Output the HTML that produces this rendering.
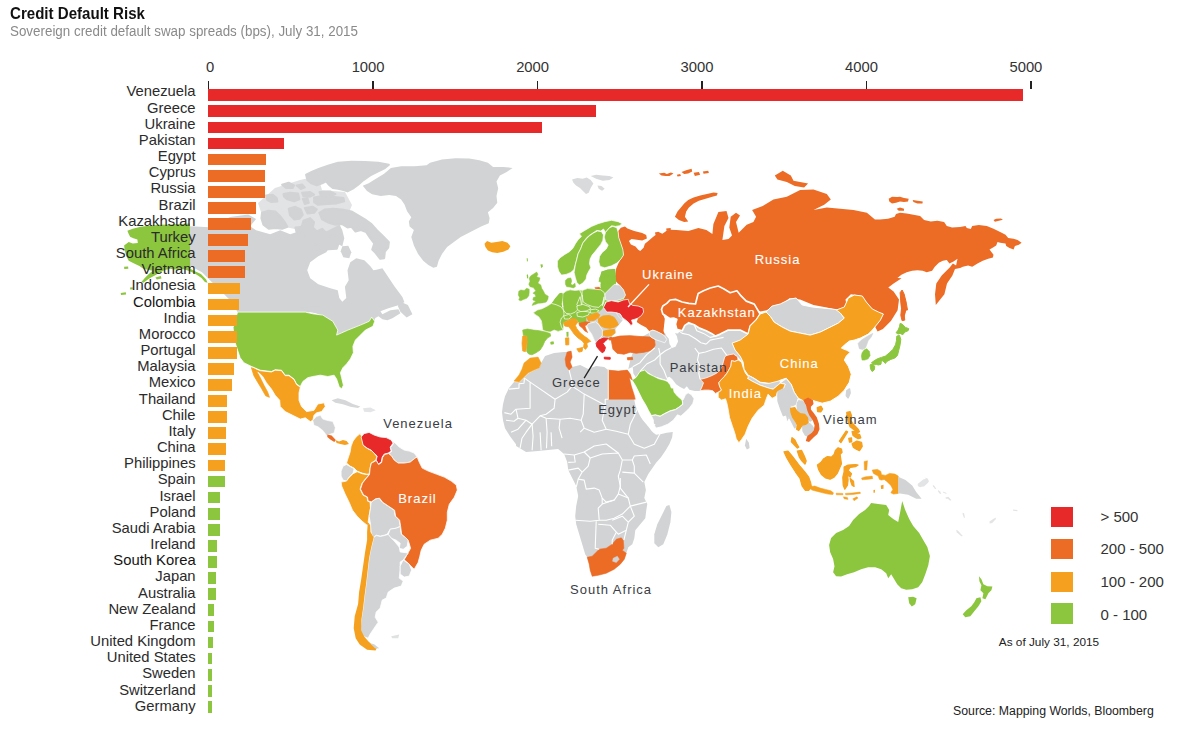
<!DOCTYPE html>
<html><head><meta charset="utf-8"><title>Credit Default Risk</title>
<style>
html,body{margin:0;padding:0;background:#fff;}
body{width:1200px;height:734px;position:relative;overflow:hidden;font-family:"Liberation Sans",sans-serif;}
#title{position:absolute;left:10px;top:4px;font-size:16.5px;font-weight:bold;color:#111;white-space:nowrap;transform-origin:0 0;transform:scaleX(0.914);letter-spacing:0px;}
#sub{position:absolute;left:10px;top:23px;font-size:14px;color:#8a8a8a;white-space:nowrap;transform-origin:0 0;transform:scaleX(0.9555);}
.lb{position:absolute;right:1004.4px;font-size:14.8px;color:#2b2b2b;white-space:nowrap;line-height:16px;height:16px;text-align:right;}
.bar{position:absolute;height:11.8px;}
.ax{position:absolute;top:58.6px;font-size:14.8px;color:#333;width:60px;text-align:center;line-height:16px;}
.tk{position:absolute;top:81px;width:1.6px;height:7.7px;background:#222;}
svg{position:absolute;left:0;top:0;filter:blur(0.35px);}
.ml{position:absolute;font-size:13px;color:#3a3d44;white-space:nowrap;line-height:14px;letter-spacing:1px;}
.mw{color:#fff;-webkit-text-stroke:0.12px #fff;}
.lg{position:absolute;left:1051.4px;width:21.9px;height:20px;}
.lt{position:absolute;left:1100.5px;font-size:15px;color:#333;white-space:nowrap;line-height:16px;}
.src{position:absolute;font-size:11.5px;color:#222;white-space:nowrap;line-height:14px;}
</style></head><body>
<svg width="1200" height="734" viewBox="0 0 1200 734">
<path d="M362.8,185.8 L368.7,183.2 L375.5,179.0 L384.1,173.8 L390.9,167.9 L401.1,166.2 L414.7,166.2 L426.6,165.3 L430.0,162.8 L442.0,159.4 L455.6,158.2 L469.2,158.5 L479.4,160.2 L487.9,162.8 L493.1,167.0 L503.3,167.0 L512.6,167.9 L506.7,172.1 L499.9,175.5 L496.5,181.5 L498.2,188.3 L496.5,196.0 L497.3,202.8 L493.1,207.9 L487.9,212.2 L489.6,218.1 L488.8,223.2 L481.1,226.6 L474.3,230.0 L467.5,233.4 L460.7,236.9 L453.9,242.0 L447.1,247.1 L442.0,253.9 L438.6,260.7 L436.9,266.7 L433.4,267.8 L428.3,265.0 L423.2,260.7 L418.1,253.9 L413.9,245.4 L411.3,236.9 L413.9,230.0 L409.6,226.6 L408.8,221.5 L411.3,217.3 L407.1,211.3 L404.5,204.5 L401.1,199.4 L396.0,196.0 L389.2,195.1 L380.7,196.0 L372.1,194.3 L367.0,190.9Z" fill="#d1d3d4"/>
<path d="M484.5,243.7 L487.1,241.1 L491.3,242.8 L496.5,242.0 L502.4,241.1 L507.5,242.8 L510.4,246.2 L508.4,249.6 L503.3,251.8 L497.3,253.0 L492.2,252.2 L487.9,250.5 L485.4,247.1Z" fill="#f5a01f"/>
<path d="M190.0,226.2 L210.0,227.2 L230.1,217.1 L248.1,214.5 L256.1,219.1 L250.1,226.2 L256.1,230.2 L270.2,234.2 L280.2,230.2 L290.2,234.2 L302.2,230.2 L310.2,228.2 L318.3,230.2 L326.3,226.2 L330.3,220.1 L338.3,222.1 L342.3,230.2 L344.3,238.2 L342.3,246.2 L338.3,244.2 L330.3,246.2 L326.3,252.2 L318.3,256.2 L310.2,262.2 L307.2,270.2 L310.2,278.3 L318.3,284.3 L330.3,288.3 L337.7,290.3 L339.3,297.9 L342.3,301.7 L346.3,297.9 L344.9,286.7 L348.7,280.3 L347.5,270.2 L350.3,262.2 L356.3,258.2 L364.3,260.2 L370.4,266.2 L373.4,270.2 L376.4,269.8 L382.4,268.2 L386.4,274.2 L394.4,286.3 L402.4,297.1 L404.4,302.3 L398.4,305.3 L388.4,308.3 L380.4,311.3 L382.4,314.3 L390.4,310.3 L398.4,309.3 L400.4,313.3 L392.4,318.3 L387.4,320.3 L382.4,319.3 L378.4,316.3 L375.4,317.9 L373.4,322.3 L364.3,326.4 L354.3,330.4 L342.3,335.4 L344.3,330.4 L339.3,321.3 L328.3,315.3 L318.3,313.3 L310.2,312.3 L237.7,312.3 L230.1,300.3 L220.1,290.3 L210.0,280.3 L202.0,272.2 L190.0,265.8Z" fill="#d1d3d4"/>
<path d="M399.9,301.6 L407.9,304.9 L412.4,314.2 L406.6,317.4 L400.4,311.7 L397.9,305.9Z" fill="#d1d3d4"/>
<path d="M258.0,203.0 L275.0,188.0 L300.0,180.0 L318.0,176.0 L322.0,190.0 L345.0,192.0 L352.0,205.0 L345.0,222.0 L325.0,232.0 L300.0,230.0 L280.0,226.0 L262.0,215.0Z" fill="#e2e3e4"/>
<path d="M306.1,174.7 L312.8,171.4 L319.4,168.7 L328.8,165.4 L338.1,162.7 L351.5,161.8 L364.9,162.0 L378.2,162.7 L388.9,164.7 L384.9,168.0 L378.2,171.4 L370.2,175.4 L363.5,180.1 L358.2,184.7 L352.8,188.7 L347.5,191.4 L343.5,190.1 L338.1,188.7 L332.8,188.1 L328.8,184.7 L326.1,181.4 L322.1,183.4 L316.8,185.4 L311.4,183.4 L307.4,180.1Z" fill="#d1d3d4" stroke="#d1d3d4" stroke-width="2.0" stroke-linejoin="round"/>
<path d="M314.1,197.4 L322.1,196.1 L332.8,196.7 L343.5,198.1 L344.2,201.4 L336.8,203.4 L327.5,204.1 L318.1,204.8 L314.1,202.1Z" fill="#d1d3d4" stroke="#d1d3d4" stroke-width="2.0" stroke-linejoin="round"/>
<path d="M282.1,184.7 L288.7,182.7 L294.1,185.4 L292.7,188.1 L286.1,188.1Z" fill="#d1d3d4" stroke="#d1d3d4" stroke-width="2.0" stroke-linejoin="round"/>
<path d="M296.7,185.4 L302.1,184.5 L304.8,187.4 L300.8,189.0Z" fill="#d1d3d4" stroke="#d1d3d4" stroke-width="2.0" stroke-linejoin="round"/>
<path d="M283.4,194.1 L290.1,192.7 L298.1,193.4 L299.4,199.4 L294.1,201.4 L287.4,199.4 L284.1,196.7Z" fill="#d1d3d4" stroke="#d1d3d4" stroke-width="2.0" stroke-linejoin="round"/>
<path d="M302.1,192.7 L310.1,192.1 L314.1,194.7 L310.1,196.7 L303.4,196.1Z" fill="#d1d3d4" stroke="#d1d3d4" stroke-width="2.0" stroke-linejoin="round"/>
<path d="M319.4,192.1 L330.1,191.4 L335.5,194.1 L330.1,196.1 L320.8,195.4Z" fill="#d1d3d4" stroke="#d1d3d4" stroke-width="2.0" stroke-linejoin="round"/>
<path d="M302.8,198.7 L307.4,198.1 L308.8,202.8 L304.8,204.1Z" fill="#d1d3d4" stroke="#d1d3d4" stroke-width="2.0" stroke-linejoin="round"/>
<path d="M266.0,195.4 L272.7,194.7 L276.7,198.1 L277.4,201.4 L271.4,202.1 L267.4,200.1Z" fill="#d1d3d4" stroke="#d1d3d4" stroke-width="2.0" stroke-linejoin="round"/>
<path d="M262.0,212.8 L268.7,210.8 L275.4,211.4 L280.7,216.8 L284.7,222.1 L287.4,226.8 L282.1,228.8 L275.4,228.1 L268.7,228.8 L263.4,224.8 L261.4,218.1Z" fill="#d1d3d4" stroke="#d1d3d4" stroke-width="2.0" stroke-linejoin="round"/>
<path d="M288.7,208.8 L295.4,206.8 L300.8,209.4 L302.8,214.8 L299.4,218.8 L294.1,219.4 L290.1,215.4Z" fill="#d1d3d4" stroke="#d1d3d4" stroke-width="2.0" stroke-linejoin="round"/>
<path d="M304.8,208.1 L312.8,206.8 L316.8,209.4 L314.1,212.8 L307.4,213.4Z" fill="#d1d3d4" stroke="#d1d3d4" stroke-width="2.0" stroke-linejoin="round"/>
<path d="M295.4,227.5 L302.1,226.8 L303.4,231.5 L296.7,232.8Z" fill="#d1d3d4" stroke="#d1d3d4" stroke-width="2.0" stroke-linejoin="round"/>
<path d="M303.4,220.8 L310.1,218.1 L314.1,222.1 L312.8,227.5 L316.8,231.5 L322.1,228.8 L326.1,232.8 L330.1,236.8 L335.5,235.5 L339.5,240.8 L336.8,248.8 L324.8,249.5 L314.1,244.2 L306.1,242.8 L303.4,235.5 L300.8,230.1Z" fill="#d1d3d4" stroke="#d1d3d4" stroke-width="2.0" stroke-linejoin="round"/>
<path d="M319.4,212.8 L324.8,209.4 L332.8,208.8 L342.2,209.4 L351.5,211.4 L358.2,215.4 L364.9,219.4 L371.5,224.1 L376.9,230.1 L383.6,236.8 L388.9,242.2 L388.2,247.5 L384.9,251.5 L384.2,258.2 L380.2,258.8 L375.5,252.8 L372.2,249.5 L374.2,243.5 L370.2,238.1 L366.2,232.1 L360.9,230.1 L355.5,231.5 L351.5,226.8 L347.5,227.5 L342.2,224.1 L335.5,224.8 L328.8,222.8 L322.1,219.4Z" fill="#d1d3d4" stroke="#d1d3d4" stroke-width="2.0" stroke-linejoin="round"/>
<path d="M342.3,246.2 L348.3,245.8 L351.3,252.2 L349.3,258.2 L343.3,257.2 L340.7,251.2Z" fill="#d1d3d4"/>
<path d="M300.3,307.5 L340.4,305.0 L352.9,325.1 L337.3,336.6 L330.3,325.1 L320.3,315.1Z" fill="#d1d3d4"/>
<path d="M237.6,312.1 L305.3,312.1 L312.8,313.8 L322.8,315.1 L332.8,321.3 L337.8,330.1 L336.6,335.1 L347.9,330.1 L360.4,325.1 L369.2,321.3 L371.7,317.1 L374.7,321.3 L372.9,326.3 L365.4,330.1 L360.4,335.1 L355.4,340.1 L352.9,346.4 L353.4,352.7 L350.4,358.9 L346.6,363.9 L342.9,367.7 L340.4,372.7 L341.6,377.7 L343.4,385.2 L341.6,389.0 L339.1,386.5 L336.6,379.0 L334.1,375.2 L327.8,376.5 L320.3,375.2 L312.8,376.5 L307.8,377.7 L302.8,381.5 L300.3,386.5 L296.5,384.0 L294.0,379.0 L289.0,375.2 L285.2,375.2 L281.5,370.2 L275.2,369.7 L271.4,371.5 L260.2,370.2 L251.4,366.4 L243.9,362.7 L240.1,357.7 L237.6,350.2 L235.1,342.6 L233.8,335.1 L233.1,327.6 L235.1,320.1Z" fill="#8cc63e" stroke="#fff" stroke-width="0.8" stroke-linejoin="round"/>
<path d="M127.4,230.7 L132.7,228.7 L140.8,226.7 L148.8,225.8 L159.4,224.7 L170.1,224.4 L180.8,224.0 L189.9,223.4 L190.2,268.8 L195.5,271.4 L200.9,274.1 L206.2,279.4 L207.5,282.8 L204.9,282.1 L201.5,278.1 L196.8,274.8 L191.5,272.1 L186.2,270.1 L180.8,268.8 L175.5,269.4 L170.1,268.8 L164.8,270.1 L159.4,272.8 L154.8,275.4 L150.1,278.1 L146.1,280.8 L143.4,282.8 L141.4,282.1 L144.8,278.1 L148.8,274.1 L152.8,270.8 L148.8,270.1 L143.4,268.8 L139.4,266.1 L134.1,263.4 L128.7,260.8 L126.1,255.4 L124.7,250.1 L124.1,245.4 L128.7,242.1 L132.7,243.4 L137.8,243.0 L137.4,239.4 L133.4,238.3 L130.1,236.7 L128.7,234.0Z" fill="#8cc63e"/>
<path d="M124.1,266.8 L128.1,266.5 L128.3,268.8 L124.3,269.0Z" fill="#8cc63e"/>
<path d="M120.7,293.1 L125.8,292.3 L126.1,294.4 L121.0,295.1Z" fill="#8cc63e"/>
<path d="M130.1,287.5 L132.7,287.2 L132.9,289.3 L130.2,289.6Z" fill="#8cc63e"/>
<path d="M155.4,277.4 L160.8,276.1 L161.5,278.4 L156.8,279.4Z" fill="#8cc63e"/>
<path d="M251.4,366.9 L260.2,370.7 L271.4,372.0 L275.2,370.2 L281.5,370.7 L285.2,375.7 L289.0,375.7 L294.0,379.5 L296.5,384.5 L300.3,387.2 L299.0,392.8 L299.0,400.3 L301.5,406.5 L306.5,411.6 L314.0,410.3 L317.8,404.0 L324.1,402.8 L325.3,406.5 L321.6,411.6 L316.5,412.8 L314.0,415.3 L312.8,420.3 L310.3,421.6 L305.3,417.8 L300.3,419.1 L292.7,415.3 L285.2,411.6 L280.2,406.5 L279.7,400.3 L275.2,395.3 L271.4,389.0 L266.4,382.7 L262.7,376.5 L258.9,372.7 L253.9,371.5Z" fill="#f5a01f" stroke="#fff" stroke-width="0.8" stroke-linejoin="round"/>
<path d="M251.4,367.7 L255.6,369.7 L259.6,376.5 L263.9,385.2 L267.7,392.3 L269.4,397.3 L265.7,395.8 L261.4,388.2 L257.6,382.0 L253.9,375.7Z" fill="#f5a01f" stroke="#f5a01f" stroke-width="0.8" stroke-linejoin="round"/>
<path d="M312.8,420.3 L316.5,416.6 L320.3,415.3 L322.8,419.1 L326.6,420.3 L332.8,421.6 L335.3,427.8 L334.1,432.9 L330.3,434.1 L326.6,435.4 L322.8,430.4 L317.8,426.6 L314.0,425.3Z" fill="#d1d3d4" stroke="#fff" stroke-width="0.6" stroke-linejoin="round"/>
<path d="M327.3,434.4 L331.6,435.6 L335.8,439.9 L334.3,441.9 L330.3,439.4 L327.3,436.9Z" fill="#ec6b25"/>
<path d="M335.3,439.9 L339.1,441.4 L342.9,439.9 L346.6,441.1 L348.9,444.1 L344.9,445.1 L340.4,443.9 L336.6,443.1Z" fill="#f5a01f"/>
<path d="M331.6,400.3 L337.8,398.3 L345.4,400.3 L352.9,404.0 L360.4,406.5 L357.9,408.0 L350.4,406.8 L342.9,404.3 L335.3,402.8Z" fill="#d6d7d8"/>
<path d="M362.9,408.3 L370.4,407.5 L375.9,410.3 L370.4,412.3 L364.2,411.8Z" fill="#e4e5e6"/>
<path d="M360.1,433.6 L362.1,437.0 L362.5,441.0 L363.7,445.7 L367.7,448.7 L371.7,450.7 L374.5,453.7 L376.8,456.5 L375.8,460.1 L371.1,463.1 L370.1,468.1 L369.1,474.1 L366.1,474.1 L362.1,473.1 L357.1,471.1 L354.1,468.1 L350.1,466.1 L346.5,463.1 L348.1,458.1 L350.1,452.1 L351.1,446.1 L353.1,441.0 L356.1,437.0Z" fill="#f5a01f" stroke="#fff" stroke-width="0.8" stroke-linejoin="round"/>
<path d="M361.1,437.0 L364.1,433.6 L369.1,432.4 L374.1,435.0 L380.2,437.0 L386.2,437.6 L391.2,440.0 L393.2,443.0 L390.2,447.1 L391.2,451.1 L388.2,453.1 L384.2,454.1 L382.2,457.1 L381.2,462.1 L378.2,464.1 L376.2,460.1 L377.2,456.1 L374.1,453.1 L371.1,450.1 L367.1,448.1 L363.1,445.1 L362.1,441.0Z" fill="#e7292a" stroke="#fff" stroke-width="0.8" stroke-linejoin="round"/>
<path d="M391.6,440.0 L396.2,444.0 L399.2,447.1 L404.2,450.1 L409.2,451.1 L414.2,453.1 L417.2,457.1 L415.2,458.1 L410.2,462.1 L404.2,463.1 L398.2,463.1 L394.2,460.1 L391.6,456.1 L388.6,453.5 L391.6,451.5 L390.6,447.5 L393.6,443.4Z" fill="#d1d3d4" stroke="#fff" stroke-width="0.8" stroke-linejoin="round"/>
<path d="M343.1,466.1 L346.5,464.5 L350.1,466.5 L354.1,468.7 L353.1,473.1 L349.1,477.1 L346.5,481.1 L343.1,480.1 L341.1,476.1 L341.1,471.1Z" fill="#d1d3d4" stroke="#fff" stroke-width="0.8" stroke-linejoin="round"/>
<path d="M346.5,481.1 L349.1,477.5 L353.1,473.7 L357.1,471.7 L362.1,473.7 L366.1,474.5 L369.1,474.7 L366.1,478.1 L362.1,483.1 L360.1,489.1 L363.1,495.2 L367.1,497.2 L367.7,501.2 L370.1,502.2 L370.5,508.2 L369.1,516.2 L368.1,522.2 L370.1,524.2 L367.1,525.2 L362.1,521.2 L357.1,516.2 L352.5,510.2 L349.1,502.2 L345.1,494.1 L341.7,486.1 L341.1,482.1Z" fill="#f5a01f" stroke="#fff" stroke-width="0.8" stroke-linejoin="round"/>
<path d="M370.5,508.2 L371.1,502.2 L375.2,499.2 L379.2,498.2 L382.2,502.2 L388.2,506.2 L394.2,510.2 L395.2,516.2 L399.2,520.2 L400.2,526.2 L396.2,528.2 L390.2,529.2 L387.2,534.2 L384.2,535.2 L380.2,536.2 L376.2,535.2 L373.1,538.2 L371.1,532.2 L370.5,524.2 L369.1,516.2Z" fill="#d1d3d4" stroke="#fff" stroke-width="0.8" stroke-linejoin="round"/>
<path d="M390.2,529.2 L396.2,528.2 L400.2,526.6 L401.2,534.2 L405.2,537.2 L408.2,540.2 L407.2,546.3 L403.2,549.3 L399.2,548.3 L400.2,543.2 L396.2,540.2 L391.2,538.2 L388.2,534.6Z" fill="#d1d3d4" stroke="#fff" stroke-width="0.8" stroke-linejoin="round"/>
<path d="M370.1,468.1 L371.3,463.3 L376.2,460.5 L378.6,464.5 L381.6,462.5 L382.6,457.5 L384.6,454.5 L388.6,453.5 L391.6,456.1 L394.2,460.1 L398.2,463.1 L404.2,463.1 L410.2,462.1 L415.2,458.1 L417.2,457.1 L419.2,462.1 L422.2,468.1 L428.3,471.1 L436.3,474.1 L444.3,477.1 L451.3,481.1 L456.3,485.1 L457.3,490.1 L454.3,497.2 L449.3,504.2 L447.3,512.2 L447.3,520.2 L445.3,528.2 L442.3,534.2 L438.3,538.2 L430.3,540.2 L424.2,544.2 L421.2,550.3 L419.8,556.3 L418.2,562.3 L414.2,569.3 L409.2,564.3 L404.2,559.7 L407.2,554.3 L410.6,548.3 L408.2,540.2 L405.2,537.2 L401.6,534.2 L400.6,526.2 L399.6,520.2 L395.6,516.2 L394.6,510.2 L388.6,506.2 L382.6,502.2 L379.6,498.2 L375.6,498.8 L371.5,501.8 L368.1,501.0 L367.5,497.0 L363.5,494.9 L360.5,489.1 L362.5,483.1 L366.5,478.1 L369.5,474.5Z" fill="#ec6b25" stroke="#fff" stroke-width="0.8" stroke-linejoin="round"/>
<path d="M373.7,537.6 L371.1,548.0 L369.1,558.0 L367.7,570.1 L366.1,584.1 L364.5,596.1 L363.1,608.1 L361.1,620.2 L360.1,630.2 L362.5,636.2 L368.1,638.2 L370.1,634.2 L374.1,628.2 L378.2,622.2 L375.2,617.2 L376.2,612.1 L380.2,608.1 L382.2,600.1 L386.2,598.1 L388.2,592.1 L394.2,588.1 L401.2,586.1 L403.2,581.1 L399.2,578.1 L400.2,570.1 L400.2,562.0 L403.2,560.0 L408.2,553.0 L400.2,552.0 L399.2,547.0 L394.2,541.0 L391.2,538.0 L388.2,534.4 L384.2,535.6 L380.2,536.4 L376.2,535.6Z" fill="#d1d3d4" stroke="#fff" stroke-width="0.8" stroke-linejoin="round"/>
<path d="M403.2,560.0 L409.2,564.0 L411.6,570.1 L409.2,576.1 L404.2,577.1 L400.2,574.1 L400.2,566.1Z" fill="#d1d3d4" stroke="#fff" stroke-width="0.8" stroke-linejoin="round"/>
<path d="M367.7,524.0 L370.1,524.4 L370.5,532.0 L373.7,537.6 L371.1,548.0 L369.1,558.0 L367.7,570.1 L366.1,584.1 L364.5,596.1 L363.1,608.1 L361.3,620.2 L361.1,630.2 L364.1,636.6 L368.5,641.4 L372.1,644.8 L376.6,648.2 L375.6,650.6 L367.1,649.8 L359.7,644.6 L355.7,638.2 L353.7,628.2 L354.7,616.2 L358.1,604.1 L359.1,592.1 L361.1,580.1 L363.1,566.1 L365.1,552.0 L367.1,540.0 L367.1,532.0Z" fill="#f5a01f"/>
<path d="M370.1,643.2 L374.1,644.2 L379.2,648.2 L375.2,648.4Z" fill="#d1d3d4"/>
<path d="M391.2,636.2 L399.2,634.6 L398.2,638.2 L392.2,638.2Z" fill="#e0e1e2"/>
<path d="M628.3,369.1 L630.3,360.1 L632.3,354.1 L643.4,336.1 L649.4,332.8 L656.8,330.5 L664.8,332.8 L678.1,333.4 L683.5,324.1 L696.8,324.7 L710.2,331.4 L720.2,333.4 L728.3,329.7 L744.3,327.7 L749.1,333.1 L741.1,340.5 L732.1,343.1 L735.1,350.1 L740.1,356.1 L743.1,362.1 L737.5,356.7 L730.9,366.0 L721.5,390.1 L718.2,392.4 L715.5,393.7 L712.8,391.0 L708.8,390.4 L704.1,390.4 L700.1,391.0 L694.8,391.0 L689.4,389.7 L686.8,386.3 L684.1,389.0 L680.1,387.0 L676.1,384.3 L672.1,379.0 L669.4,376.7 L666.7,377.7 L666.7,380.1 L653.4,376.1 L644.7,370.1 L640.0,371.4 L636.0,377.4 L633.4,373.4 L632.7,366.7Z" fill="#d1d3d4"/>
<path d="M676.4,230.1 L688.4,231.1 L698.4,228.1 L706.4,230.1 L712.4,234.1 L713.4,224.0 L718.4,212.0 L726.5,211.0 L728.5,218.0 L724.4,226.1 L722.4,240.1 L728.5,239.1 L732.0,235.5 L729.3,227.5 L730.7,216.8 L736.0,212.8 L740.0,215.4 L736.0,222.1 L738.7,232.8 L746.7,224.8 L753.4,222.1 L756.1,216.8 L752.1,210.1 L762.7,206.1 L773.4,199.4 L786.8,196.7 L800.1,190.1 L813.5,189.5 L826.8,194.1 L830.8,199.4 L824.2,204.8 L813.5,210.1 L826.8,207.4 L840.2,208.8 L853.5,210.1 L866.9,212.8 L874.9,219.4 L880.0,219.4 L888.0,218.7 L894.7,216.7 L896.0,214.1 L900.0,212.7 L906.7,213.4 L913.4,214.7 L920.1,216.1 L924.1,220.1 L930.8,221.4 L937.4,220.7 L944.1,222.1 L946.8,226.1 L952.1,227.4 L960.1,227.0 L965.5,226.1 L966.8,228.1 L970.8,229.1 L972.2,226.1 L978.8,225.1 L986.8,226.1 L993.5,228.7 L1000.2,232.1 L1005.5,234.8 L1008.2,238.1 L1013.6,238.8 L1017.6,240.1 L1021.6,242.8 L1018.9,244.8 L1014.9,246.1 L1013.6,249.4 L1009.5,248.1 L1006.2,246.1 L1005.5,243.4 L1000.2,242.8 L997.5,242.1 L996.2,245.4 L992.2,248.1 L989.5,249.4 L993.5,254.8 L992.9,257.5 L988.2,258.8 L982.8,260.8 L977.5,263.5 L972.2,266.8 L968.1,265.5 L962.8,266.8 L960.1,268.1 L955.0,268.9 L952.4,275.5 L947.0,283.5 L944.4,294.2 L939.0,300.9 L935.8,304.9 L935.0,294.2 L936.3,283.5 L941.7,275.5 L949.7,267.5 L952.9,263.5 L956.1,265.5 L957.5,258.8 L953.5,261.5 L949.4,263.5 L946.8,260.1 L942.8,260.8 L938.8,262.8 L934.8,266.8 L932.1,270.8 L926.7,272.2 L922.7,270.8 L917.4,270.2 L912.1,270.8 L906.7,272.2 L901.4,274.8 L897.4,278.0 L901.6,278.2 L893.6,283.5 L888.3,287.6 L893.6,291.6 L899.0,299.6 L897.6,310.3 L890.9,320.9 L882.9,329.0 L877.6,331.6 L874.9,326.3 L880.3,318.3 L882.9,312.9 L877.6,314.3 L872.2,310.3 L865.6,302.2 L860.2,295.6 L850.9,294.2 L845.5,299.6 L846.9,307.6 L838.9,310.3 L826.8,307.6 L813.5,304.9 L800.1,299.6 L789.4,298.2 L781.4,304.9 L773.4,306.2 L766.7,310.3 L760.1,311.6 L750.0,303.4 L744.9,300.0 L740.9,294.7 L736.9,290.7 L730.2,292.7 L723.6,288.7 L718.2,286.0 L710.2,288.0 L703.5,290.7 L698.2,293.4 L696.8,298.7 L695.5,304.0 L688.8,303.4 L682.2,302.0 L675.5,299.4 L670.1,300.0 L666.8,303.4 L662.8,306.0 L661.5,309.4 L662.8,314.1 L664.8,318.7 L664.1,325.4 L663.5,330.8 L664.8,335.4 L662.1,333.7 L656.8,331.2 L652.8,329.7 L649.4,331.2 L646.1,327.4 L640.8,324.7 L636.7,322.1 L638.1,318.1 L641.4,315.4 L643.4,312.1 L642.8,308.0 L638.1,306.0 L632.7,305.4 L629.4,303.4 L628.1,299.4 L623.4,300.0 L624.7,296.0 L623.4,290.7 L620.7,286.0 L623.5,289.8 L619.5,285.1 L616.2,281.8 L614.8,277.8 L615.5,273.8 L616.2,268.4 L618.2,263.7 L620.9,259.1 L623.5,255.1 L622.9,249.7 L620.9,243.7 L618.8,237.7 L618.2,231.0 L620.9,227.7 L624.9,226.4 L627.5,228.4 L634.2,231.0 L642.2,233.0 L646.2,235.0 L646.9,238.4 L642.2,240.4 L636.9,239.7 L631.5,239.0 L628.9,241.0 L630.9,244.4 L635.5,246.4 L638.2,249.7 L640.2,251.1 L643.6,247.7 L644.9,243.7 L648.9,240.4 L652.9,237.0 L655.6,235.0 L654.9,232.4 L658.2,231.7 L662.3,233.7 L666.3,231.0 L670.0,229.7Z" fill="#ec6b25"/>
<path d="M674.9,216.8 L677.5,211.4 L680.9,207.4 L684.2,203.4 L688.2,200.1 L693.6,197.4 L700.2,195.4 L706.9,194.1 L713.6,192.5 L717.6,193.0 L716.9,195.4 L712.3,196.7 L705.6,198.7 L698.9,200.8 L693.6,203.4 L688.9,207.4 L686.2,211.4 L684.9,216.8 L688.2,221.5 L684.2,222.1 L678.9,220.1Z" fill="#ec6b25"/>
<path d="M658.8,173.4 L664.2,172.7 L666.8,174.0 L670.9,172.4 L673.5,173.4 L669.5,176.0 L665.5,176.0 L661.5,175.4Z" fill="#ec6b25"/>
<path d="M676.9,174.7 L680.2,174.0 L680.9,176.0 L677.5,176.4Z" fill="#ec6b25"/>
<path d="M681.5,172.0 L686.9,170.0 L691.6,168.7 L692.2,171.4 L688.2,173.4 L684.2,174.0Z" fill="#ec6b25"/>
<path d="M693.6,172.7 L698.9,172.0 L700.2,174.7 L694.9,176.0Z" fill="#ec6b25"/>
<path d="M702.9,171.4 L708.2,170.7 L708.9,173.0 L703.6,173.8Z" fill="#ec6b25"/>
<path d="M666.2,228.5 L670.6,228.1 L670.9,230.5 L666.6,230.9Z" fill="#ec6b25"/>
<path d="M774.8,175.4 L782.8,170.8 L790.8,175.4 L793.5,180.7 L800.1,182.1 L808.1,183.4 L804.1,187.4 L794.8,186.1 L786.8,182.1 L777.4,179.4Z" fill="#ec6b25"/>
<path d="M888.7,198.7 L892.0,196.7 L897.4,197.1 L900.0,196.7 L904.0,198.0 L908.7,198.7 L908.0,201.4 L904.0,202.0 L900.0,201.4 L896.0,202.7 L892.0,203.4 L889.3,201.4Z" fill="#ec6b25"/>
<path d="M912.7,200.0 L917.4,200.7 L922.7,201.4 L922.5,203.4 L917.4,203.4 L913.4,202.0Z" fill="#ec6b25"/>
<path d="M896.7,208.7 L900.0,207.4 L904.0,208.7 L904.0,210.7 L898.7,210.7Z" fill="#ec6b25"/>
<path d="M993.5,220.1 L996.2,218.7 L1000.9,218.5 L1002.9,219.8 L998.9,220.7 L994.9,221.7Z" fill="#ec6b25"/>
<path d="M901.6,291.6 L904.3,299.6 L906.2,310.3 L903.5,320.9 L901.4,310.3 L900.3,299.6Z" fill="#ec6b25"/>
<path d="M572.0,179.4 L577.4,178.0 L582.7,178.7 L586.7,177.4 L590.7,180.1 L593.4,183.4 L590.7,188.1 L588.7,192.7 L586.0,194.1 L582.7,190.7 L580.0,188.1 L576.0,185.4 L573.4,182.7Z" fill="#d9dadb"/>
<path d="M590.7,176.0 L596.1,174.7 L602.7,175.4 L609.4,176.0 L613.4,177.4 L609.4,180.1 L602.7,180.7 L596.1,178.7Z" fill="#d9dadb"/>
<path d="M597.4,185.4 L601.4,186.1 L604.7,188.7 L602.1,190.7 L598.7,188.7Z" fill="#d9dadb"/>
<path d="M661.5,309.4 L662.8,306.0 L666.8,303.4 L670.1,300.0 L675.5,299.4 L682.2,302.0 L688.8,303.4 L695.5,304.0 L696.8,298.7 L698.2,293.4 L703.5,290.7 L710.2,288.0 L718.2,286.0 L723.6,288.7 L730.2,292.7 L736.9,290.7 L740.3,295.1 L746.3,301.1 L754.3,304.1 L760.1,314.0 L756.1,320.1 L750.1,326.1 L748.1,334.1 L740.1,330.1 L728.3,330.1 L720.2,334.1 L715.5,336.1 L711.5,333.4 L706.2,330.8 L699.5,328.1 L694.2,324.7 L688.8,322.7 L684.8,325.4 L682.2,330.8 L676.8,329.4 L675.5,324.1 L676.8,319.4 L673.5,318.1 L670.1,318.7 L666.1,316.1 L662.8,314.1Z" fill="#ec6b25" stroke="#fff" stroke-width="1.7" stroke-linejoin="round"/>
<path d="M664.8,324.1 L666.8,320.1 L670.1,318.7 L673.5,318.1 L676.8,319.4 L675.5,322.7 L672.8,324.7 L672.1,328.1 L674.1,332.1 L676.8,336.1 L678.1,341.4 L675.5,346.8 L672.1,348.1 L669.5,344.1 L668.8,338.8 L666.1,335.4 L664.1,330.8Z" fill="#ffffff"/>
<path d="M766.1,312.0 L772.1,306.0 L780.2,304.0 L790.2,299.0 L796.2,298.0 L802.2,305.0 L812.2,307.0 L822.2,308.0 L832.3,309.0 L838.3,310.0 L844.3,318.1 L838.3,323.1 L828.3,328.1 L820.2,332.1 L810.2,335.1 L800.2,333.1 L790.2,331.1 L782.2,327.1 L774.1,322.1 L770.1,316.1Z" fill="#d1d3d4" stroke="#fff" stroke-width="1.0" stroke-linejoin="round"/>
<path d="M611.0,338.1 L620.0,336.1 L630.1,335.7 L640.1,336.5 L650.1,337.1 L654.5,340.1 L655.1,345.2 L652.1,350.2 L644.1,352.2 L636.1,353.2 L630.1,352.2 L624.0,354.2 L617.0,353.2 L613.0,349.2 L612.0,344.1Z" fill="#ec6b25" stroke="#ec6b25" stroke-width="0.8" stroke-linejoin="round"/>
<path d="M608.2,336.8 L611.8,337.2 L611.8,340.0 L609.2,340.0Z" fill="#ec6b25" stroke="#ec6b25" stroke-width="0.8" stroke-linejoin="round"/>
<path d="M627.3,357.7 L632.3,357.3 L632.7,359.5 L627.7,359.9Z" fill="#ec6b25" stroke="#ec6b25" stroke-width="0.8" stroke-linejoin="round"/>
<path d="M632.0,380.1 L636.0,377.4 L640.0,371.4 L644.7,370.1 L648.0,373.4 L653.4,376.1 L658.7,378.7 L664.1,380.1 L667.4,381.4 L670.1,384.7 L671.4,388.1 L673.4,388.1 L674.1,392.1 L677.4,396.1 L682.1,400.1 L682.8,404.1 L679.4,406.8 L675.4,409.4 L670.1,410.8 L664.7,413.5 L660.1,416.1 L655.4,414.8 L651.4,415.5 L648.7,410.8 L646.0,405.4 L642.0,398.8 L638.7,392.1 L635.4,385.4Z" fill="#8cc63e" stroke="#fff" stroke-width="0.8" stroke-linejoin="round"/>
<path d="M700.1,379.4 L705.5,378.1 L710.8,376.1 L716.2,373.4 L720.2,370.1 L722.2,366.0 L723.5,361.4 L724.8,356.7 L726.8,355.4 L729.5,354.7 L733.5,354.0 L737.5,356.7 L738.2,360.0 L734.9,361.4 L731.5,360.7 L730.9,366.0 L728.8,370.1 L726.8,373.4 L724.2,376.7 L720.8,380.1 L718.8,382.7 L719.5,386.1 L721.5,390.1 L718.2,392.1 L715.5,393.4 L712.8,390.8 L708.8,390.1 L704.1,390.1 L700.1,390.8 L702.1,386.7 L703.5,382.7Z" fill="#ec6b25" stroke="#fff" stroke-width="0.8" stroke-linejoin="round"/>
<path d="M732.1,343.1 L740.1,340.1 L748.1,334.1 L750.1,326.1 L756.1,320.1 L760.1,314.0 L766.1,312.0 L770.1,316.1 L774.1,322.1 L782.2,327.1 L790.2,331.1 L800.2,333.1 L810.2,335.1 L820.2,332.1 L828.3,328.1 L838.3,323.1 L844.3,318.1 L840.3,313.0 L836.3,310.0 L844.3,307.0 L848.3,298.0 L854.3,295.0 L862.3,296.0 L866.3,302.0 L872.3,309.0 L878.4,312.0 L883.4,314.0 L880.4,320.1 L876.4,325.1 L872.3,330.1 L868.3,334.1 L860.3,338.1 L854.3,340.1 L849.3,341.1 L844.3,345.1 L841.3,348.1 L846.3,350.1 L850.3,352.1 L846.3,356.1 L844.3,360.1 L848.3,366.2 L851.3,374.2 L849.3,382.2 L844.3,390.2 L838.3,396.2 L830.3,401.2 L822.2,403.2 L815.2,401.2 L809.2,399.2 L804.2,401.2 L798.2,398.2 L794.2,392.2 L791.2,384.2 L786.2,378.2 L780.2,380.2 L774.1,384.2 L768.1,383.2 L760.1,382.2 L754.1,378.2 L748.1,375.2 L744.1,369.2 L743.1,362.1 L740.1,356.1 L735.1,350.1Z" fill="#f5a01f" stroke="#fff" stroke-width="1.0" stroke-linejoin="round"/>
<path d="M818.2,407.2 L821.8,406.6 L822.2,410.2 L819.2,411.2Z" fill="#f5a01f"/>
<path d="M847.9,391.2 L849.9,390.2 L849.3,396.2 L847.3,397.2Z" fill="#d1d3d4"/>
<path d="M748.1,375.2 L754.1,378.6 L760.1,382.6 L768.1,383.6 L780.2,380.6 L780.2,383.2 L773.1,389.2 L769.1,388.2 L760.1,385.2 L752.1,381.2 L747.1,378.2Z" fill="#d1d3d4" stroke="#fff" stroke-width="0.8" stroke-linejoin="round"/>
<path d="M768.1,389.2 L773.1,389.6 L775.2,396.2 L771.7,398.2 L768.5,394.2Z" fill="#d1d3d4" stroke="#fff" stroke-width="0.8" stroke-linejoin="round"/>
<path d="M780.2,383.2 L786.2,378.6 L791.2,384.6 L794.2,392.2 L798.2,398.2 L796.2,405.2 L791.2,407.2 L790.2,404.2 L788.2,410.2 L789.2,418.3 L787.2,422.3 L785.2,414.2 L783.2,406.2 L779.2,402.2 L777.2,396.2 L777.8,392.2 L783.2,389.2 L785.2,384.2Z" fill="#d1d3d4" stroke="#fff" stroke-width="0.8" stroke-linejoin="round"/>
<path d="M798.2,399.2 L804.2,401.6 L807.2,408.2 L812.2,416.3 L809.2,418.3 L806.2,418.3 L803.2,413.2 L798.2,410.2 L796.2,405.2Z" fill="#d1d3d4" stroke="#fff" stroke-width="0.8" stroke-linejoin="round"/>
<path d="M804.2,423.3 L810.2,422.3 L813.2,427.3 L810.2,432.3 L805.2,431.3Z" fill="#d1d3d4" stroke="#fff" stroke-width="0.8" stroke-linejoin="round"/>
<path d="M731.5,360.7 L734.9,361.4 L738.2,360.0 L741.5,362.0 L743.5,368.7 L745.5,373.4 L748.9,377.4 L747.1,378.2 L752.1,381.2 L760.1,385.2 L769.1,388.2 L773.1,389.2 L780.2,383.2 L785.2,384.2 L783.2,389.2 L777.2,392.2 L776.2,396.2 L772.1,398.2 L768.1,394.2 L766.1,399.2 L764.1,405.2 L758.1,410.2 L752.1,418.3 L748.1,426.3 L745.1,434.3 L741.6,439.4 L738.9,442.8 L736.2,438.8 L734.9,433.5 L732.2,425.5 L729.5,417.5 L728.2,409.4 L726.8,402.8 L725.5,398.8 L721.5,400.1 L718.2,397.4 L718.2,392.8 L721.5,390.1 L719.5,386.1 L718.8,382.7 L720.8,380.1 L724.2,376.7 L726.8,373.4 L728.8,370.1 L730.9,366.0Z" fill="#f5a01f" stroke="#fff" stroke-width="0.8" stroke-linejoin="round"/>
<path d="M746.2,438.8 L748.9,442.8 L749.6,448.1 L746.9,449.4 L744.9,445.4Z" fill="#d1d3d4"/>
<path d="M778.0,391.7 L783.4,389.0 L788.7,391.7 L790.7,398.4 L790.0,407.7 L791.4,413.0 L792.7,417.7 L794.7,422.4 L796.0,426.4 L794.7,427.7 L792.7,423.7 L790.0,418.4 L787.4,414.4 L783.4,415.7 L780.7,409.0 L778.0,401.0Z" fill="#d1d3d4" stroke="#d1d3d4" stroke-width="1.4" stroke-linejoin="round"/>
<path d="M797.4,402.4 L802.1,401.0 L804.7,405.0 L807.4,410.4 L810.1,415.1 L812.7,419.7 L810.1,421.1 L807.4,417.7 L805.0,414.6 L800.5,413.7 L797.4,411.0Z" fill="#d1d3d4" stroke="#d1d3d4" stroke-width="1.4" stroke-linejoin="round"/>
<path d="M802.7,425.7 L806.7,424.8 L811.4,425.1 L814.1,429.1 L812.7,433.1 L808.7,436.4 L805.4,435.1 L803.1,431.1Z" fill="#d1d3d4" stroke="#d1d3d4" stroke-width="1.4" stroke-linejoin="round"/>
<path d="M790.7,408.4 L794.7,407.7 L796.7,411.0 L800.1,413.7 L804.7,414.4 L807.4,417.7 L808.1,422.4 L805.4,424.4 L802.1,425.1 L800.1,428.4 L798.7,430.4 L796.7,429.1 L797.4,425.1 L795.4,421.1 L792.7,417.1 L791.1,412.4Z" fill="#f5a01f" stroke="#f5a01f" stroke-width="1.4" stroke-linejoin="round"/>
<path d="M792.0,437.8 L794.7,439.8 L796.7,443.8 L798.7,447.1 L797.4,448.0 L794.0,444.4 L791.4,441.8Z" fill="#f5a01f" stroke="#f5a01f" stroke-width="1.4" stroke-linejoin="round"/>
<path d="M797.4,451.1 L801.4,450.4 L804.1,455.8 L806.1,461.1 L805.0,464.1 L802.1,461.1 L799.4,457.1Z" fill="#f5a01f" stroke="#f5a01f" stroke-width="1.4" stroke-linejoin="round"/>
<path d="M804.1,400.4 L808.1,398.4 L812.1,400.4 L812.7,403.7 L810.1,406.4 L810.1,409.7 L812.7,413.0 L816.1,417.7 L818.1,423.7 L818.7,429.1 L816.7,433.7 L812.7,437.1 L808.7,441.1 L806.7,440.4 L808.1,436.4 L812.1,433.7 L814.7,430.4 L815.4,425.1 L813.4,419.7 L810.1,415.1 L808.1,410.4 L806.7,405.0Z" fill="#ec6b25" stroke="#ec6b25" stroke-width="1.6" stroke-linejoin="round"/>
<path d="M817.4,407.7 L820.8,406.4 L822.4,409.0 L820.8,411.7 L817.8,411.4Z" fill="#f5a01f" stroke="#f5a01f" stroke-width="1.6" stroke-linejoin="round"/>
<path d="M846.8,391.0 L849.5,389.0 L850.1,393.0 L848.1,397.7 L846.4,395.7Z" fill="#d1d3d4" stroke="#d1d3d4" stroke-width="1.6" stroke-linejoin="round"/>
<path d="M858.1,343.4 L861.4,340.1 L865.4,337.4 L870.1,334.7 L872.8,333.4 L871.4,336.7 L868.1,340.8 L866.7,344.8 L865.4,348.1 L862.7,349.4 L859.4,348.8Z" fill="#d1d3d4" stroke="#d1d3d4" stroke-width="0.6" stroke-linejoin="round"/>
<path d="M862.1,352.8 L864.1,350.1 L866.7,348.8 L869.4,351.4 L870.1,355.4 L868.1,358.8 L864.7,360.1 L862.1,360.1 L861.4,356.1Z" fill="#8cc63e" stroke="#8cc63e" stroke-width="0.6" stroke-linejoin="round"/>
<path d="M900.1,323.4 L902.1,324.1 L905.5,327.4 L908.8,328.7 L908.1,330.7 L904.8,332.1 L902.8,334.7 L900.1,333.4 L898.1,334.1 L896.1,332.7 L898.1,330.1 L899.5,326.7Z" fill="#8cc63e" stroke="#8cc63e" stroke-width="1.0" stroke-linejoin="round"/>
<path d="M896.8,336.1 L899.5,335.4 L900.8,339.4 L900.1,344.8 L898.8,350.1 L897.5,355.4 L894.8,358.1 L890.8,359.4 L886.8,361.5 L885.4,363.5 L882.8,360.8 L879.4,362.1 L877.4,364.1 L874.8,364.8 L872.8,364.1 L871.4,362.8 L874.1,360.8 L877.4,358.8 L881.4,357.4 L885.4,356.1 L889.4,352.8 L892.8,349.4 L895.5,344.8 L896.4,340.8Z" fill="#8cc63e" stroke="#8cc63e" stroke-width="1.0" stroke-linejoin="round"/>
<path d="M870.1,364.8 L872.8,364.1 L874.8,366.8 L874.1,370.1 L872.1,371.5 L870.5,368.8Z" fill="#8cc63e" stroke="#8cc63e" stroke-width="1.0" stroke-linejoin="round"/>
<path d="M877.4,363.1 L881.4,362.4 L880.8,364.4 L877.7,365.1Z" fill="#8cc63e" stroke="#8cc63e" stroke-width="1.0" stroke-linejoin="round"/>
<path d="M900.1,292.7 L902.1,290.0 L904.1,294.0 L906.1,302.0 L907.5,310.0 L905.5,310.0 L904.1,315.4 L904.8,320.1 L902.1,320.7 L900.8,315.4 L901.5,308.7 L900.8,300.7Z" fill="#ec6b25" stroke="#ec6b25" stroke-width="1.0" stroke-linejoin="round"/>
<path d="M846.8,412.4 L850.1,411.7 L851.5,415.7 L850.8,420.4 L852.8,423.7 L855.5,426.4 L858.1,429.1 L859.5,431.7 L857.5,432.7 L855.5,430.7 L852.8,428.7 L850.1,426.7 L848.1,421.7 L847.2,417.1Z" fill="#f5a01f" stroke="#f5a01f" stroke-width="1.3" stroke-linejoin="round"/>
<path d="M852.1,431.7 L855.5,431.1 L856.8,433.7 L859.7,434.7 L860.8,437.8 L858.1,438.7 L855.5,437.1 L853.1,435.5Z" fill="#f5a01f" stroke="#f5a01f" stroke-width="1.3" stroke-linejoin="round"/>
<path d="M852.1,443.8 L856.8,441.1 L861.5,442.4 L862.2,446.4 L859.5,450.7 L856.8,449.4 L853.5,447.4Z" fill="#f5a01f" stroke="#f5a01f" stroke-width="1.3" stroke-linejoin="round"/>
<path d="M839.4,441.1 L846.1,431.1 L847.6,431.9 L840.9,442.6Z" fill="#f5a01f" stroke="#f5a01f" stroke-width="1.3" stroke-linejoin="round"/>
<path d="M848.8,438.4 L851.5,437.8 L851.7,441.8 L849.5,442.2Z" fill="#f5a01f" stroke="#f5a01f" stroke-width="1.3" stroke-linejoin="round"/>
<path d="M784.0,451.8 L788.0,451.1 L792.0,455.8 L796.0,461.1 L800.1,466.5 L804.7,471.8 L808.7,477.2 L810.7,483.0 L811.4,486.5 L808.7,490.5 L805.4,490.5 L802.1,485.8 L800.1,478.5 L795.4,471.8 L790.7,464.5 L786.7,457.8Z" fill="#f5a01f" stroke="#f5a01f" stroke-width="1.2" stroke-linejoin="round"/>
<path d="M817.4,465.1 L820.8,462.5 L823.4,459.1 L827.4,456.5 L831.4,457.1 L834.1,454.4 L835.4,450.4 L838.1,447.8 L841.5,449.1 L842.1,452.4 L840.1,454.4 L840.8,459.1 L841.5,463.8 L839.4,468.5 L837.4,473.1 L834.1,477.2 L830.1,479.2 L825.4,477.8 L821.4,474.5 L818.7,469.8Z" fill="#f5a01f" stroke="#f5a01f" stroke-width="1.2" stroke-linejoin="round"/>
<path d="M844.1,467.1 L848.1,465.1 L855.5,464.5 L858.1,465.1 L855.5,466.7 L850.1,467.5 L848.1,470.5 L851.5,473.8 L850.1,477.2 L847.5,474.5 L848.1,479.8 L847.5,485.2 L844.8,489.2 L843.2,485.2 L842.8,477.2 L844.1,471.8Z" fill="#f5a01f" stroke="#f5a01f" stroke-width="1.2" stroke-linejoin="round"/>
<path d="M850.1,478.5 L853.5,481.2 L854.1,486.5 L852.1,485.2 L850.8,481.8Z" fill="#f5a01f" stroke="#f5a01f" stroke-width="1.2" stroke-linejoin="round"/>
<path d="M810.1,486.7 L814.7,486.1 L820.1,488.1 L825.4,489.4 L830.8,490.8 L833.4,492.8 L832.8,494.5 L828.1,494.1 L822.7,492.8 L817.4,491.4 L812.1,490.1 L809.6,488.3Z" fill="#f5a01f" stroke="#f5a01f" stroke-width="0.6" stroke-linejoin="round"/>
<path d="M836.1,493.2 L842.8,493.4 L843.0,494.8 L836.4,494.8Z" fill="#f5a01f" stroke="#f5a01f" stroke-width="0.5" stroke-linejoin="round"/>
<path d="M845.4,493.4 L852.1,493.0 L860.1,492.1 L860.4,493.4 L852.8,494.5 L845.7,494.8Z" fill="#f5a01f" stroke="#f5a01f" stroke-width="0.5" stroke-linejoin="round"/>
<path d="M843.4,496.8 L847.4,497.4 L848.1,499.4 L844.1,498.8Z" fill="#f5a01f" stroke="#f5a01f" stroke-width="0.4" stroke-linejoin="round"/>
<path d="M852.8,498.8 L856.8,496.8 L858.1,498.1 L854.1,500.8Z" fill="#f5a01f" stroke="#f5a01f" stroke-width="0.4" stroke-linejoin="round"/>
<path d="M872.2,470.1 L877.5,469.4 L880.8,471.4 L881.5,474.7 L885.5,475.4 L889.5,473.4 L894.9,474.1 L898.2,476.1 L898.2,493.4 L893.5,494.1 L890.9,492.8 L892.9,489.4 L890.9,485.4 L886.8,481.4 L884.2,479.4 L881.5,480.1 L879.5,479.4 L878.2,476.1 L873.5,473.4Z" fill="#f5a01f" stroke="#f5a01f" stroke-width="0.6" stroke-linejoin="round"/>
<path d="M898.2,476.7 L905.5,480.1 L912.2,485.4 L916.2,492.1 L921.6,498.8 L916.2,498.8 L908.2,494.8 L900.2,493.4 L898.2,493.4Z" fill="#d1d3d4"/>
<path d="M880.8,485.4 L883.5,484.7 L883.5,488.7 L881.1,489.1Z" fill="#f5a01f"/>
<path d="M873.5,490.1 L875.1,489.7 L874.8,492.8 L873.5,492.8Z" fill="#f5a01f"/>
<path d="M864.1,461.4 L867.5,460.7 L866.8,470.1 L864.4,470.1Z" fill="#f5a01f" stroke="#f5a01f" stroke-width="0.4" stroke-linejoin="round"/>
<path d="M861.5,478.1 L865.5,476.7 L872.2,476.1 L872.8,478.7 L866.8,479.4 L862.1,479.8Z" fill="#f5a01f" stroke="#f5a01f" stroke-width="0.4" stroke-linejoin="round"/>
<path d="M918.3,484.2 L923.3,480.2 L927.3,479.2 L928.3,481.2 L924.3,484.2 L920.3,486.6Z" fill="#e3e4e5" stroke="#e3e4e5" stroke-width="1.2" stroke-linejoin="round"/>
<path d="M871.1,503.0 L878.2,504.0 L886.2,505.0 L889.2,510.0 L888.2,515.1 L893.2,519.1 L898.2,522.1 L900.2,512.0 L902.2,501.0 L905.2,510.0 L909.2,519.1 L913.2,526.1 L919.2,533.1 L923.2,540.1 L927.3,547.1 L929.9,556.1 L928.3,565.2 L925.3,574.2 L922.2,582.2 L918.2,587.2 L912.2,589.2 L906.2,589.8 L901.2,588.2 L897.2,584.2 L894.2,579.2 L891.2,574.2 L888.2,578.2 L886.2,573.2 L881.2,569.2 L875.2,567.2 L868.1,567.2 L861.1,569.2 L854.1,572.2 L847.1,574.2 L841.1,576.6 L836.1,576.2 L833.1,572.2 L834.5,566.2 L833.1,559.1 L830.1,552.1 L829.1,545.1 L831.1,538.1 L836.1,533.1 L843.1,530.1 L849.1,526.1 L853.1,520.1 L859.1,514.0 L865.1,510.0 L869.1,506.0Z" fill="#8cc63e"/>
<path d="M908.2,597.2 L913.2,596.8 L916.6,598.2 L915.2,604.2 L911.8,606.6 L909.2,603.2Z" fill="#8cc63e"/>
<path d="M979.0,576.2 L981.4,579.2 L983.4,584.2 L987.4,586.2 L992.4,586.6 L991.4,590.2 L988.4,593.2 L985.4,599.2 L982.4,598.2 L983.4,593.2 L980.4,590.2 L981.4,585.2 L979.4,581.2Z" fill="#8cc63e"/>
<path d="M976.4,598.2 L980.4,597.2 L981.4,601.2 L978.4,606.2 L974.3,611.2 L970.3,616.3 L965.3,617.3 L962.7,614.2 L966.3,610.2 L971.3,606.2 L974.3,602.2Z" fill="#8cc63e"/>
<path d="M562.8,293.8 L566.1,291.1 L570.1,289.8 L575.4,290.5 L582.1,290.5 L587.5,288.5 L594.1,289.1 L600.8,287.8 L600.8,283.8 L599.5,277.8 L601.5,271.8 L607.5,269.8 L615.2,269.1 L616.2,281.8 L615.5,285.8 L619.5,285.1 L623.5,289.8 L625.5,295.1 L623.5,300.5 L611.5,301.8 L605.5,301.8 L603.5,307.4 L600.8,311.4 L598.1,318.7 L590.1,322.7 L579.4,324.1 L576.8,320.1 L572.1,318.7 L567.4,320.7 L563.4,322.7 L563.2,330.1 L558.1,331.4 L554.1,330.1 L550.1,332.1 L546.1,331.4 L542.7,330.1 L542.1,325.4 L541.4,320.7 L538.7,316.7 L535.4,314.7 L533.4,312.7 L537.4,310.0 L542.1,308.7 L547.4,306.0 L551.4,303.4 L555.4,298.0 L559.4,293.3 L562.1,292.7Z" fill="#8cc63e"/>
<path d="M586.1,317.4 L591.5,314.7 L598.8,312.0 L603.5,308.0 L611.5,312.0 L616.8,313.0 L622.9,320.1 L618.8,325.0 L615.5,328.7 L615.5,333.4 L611.8,336.1 L608.2,338.3 L603.5,338.1 L598.8,340.1 L596.1,343.4 L594.1,339.4 L591.7,334.1 L588.8,330.1 L586.8,326.1Z" fill="#d1d3d4"/>
<path d="M557.4,261.1 L560.1,257.7 L564.8,254.4 L569.4,251.7 L572.8,248.4 L575.4,243.7 L578.1,239.7 L581.5,236.4 L579.4,233.7 L584.8,230.4 L591.5,226.4 L598.1,223.7 L604.8,221.7 L611.5,220.3 L618.2,221.7 L622.2,223.7 L619.5,225.7 L615.5,226.4 L611.5,225.7 L608.8,228.4 L605.5,232.4 L603.5,229.0 L600.8,231.0 L596.8,230.4 L592.8,233.0 L588.8,235.7 L586.1,238.4 L582.8,243.0 L580.8,248.4 L578.1,253.7 L576.8,259.1 L575.4,264.4 L573.8,269.8 L570.8,272.4 L566.1,274.4 L561.4,275.1 L558.7,271.1 L557.4,266.4Z" fill="#8cc63e" stroke="#fff" stroke-width="0.7" stroke-linejoin="round"/>
<path d="M586.8,238.4 L589.5,235.7 L593.5,233.0 L597.5,231.0 L601.5,231.7 L603.5,235.0 L602.8,240.4 L600.8,244.4 L598.1,247.7 L595.5,251.1 L592.1,255.1 L590.1,259.1 L589.5,263.7 L590.8,267.8 L588.8,271.1 L586.8,275.1 L586.1,279.1 L582.8,283.1 L579.4,285.1 L576.8,282.4 L575.4,277.8 L574.1,272.4 L575.4,264.4 L576.8,259.1 L578.1,253.7 L580.8,248.4 L582.8,243.0Z" fill="#8cc63e" stroke="#fff" stroke-width="0.7" stroke-linejoin="round"/>
<path d="M605.5,232.4 L609.5,227.7 L612.8,226.4 L616.8,227.7 L618.2,232.4 L618.8,237.7 L620.9,243.7 L622.9,249.7 L623.5,255.1 L620.9,259.1 L616.8,263.1 L611.5,265.8 L604.8,267.8 L600.2,266.4 L598.8,261.7 L599.5,256.4 L602.2,252.4 L606.2,249.1 L608.2,245.1 L605.5,241.7 L604.2,237.0Z" fill="#8cc63e" stroke="#fff" stroke-width="0.7" stroke-linejoin="round"/>
<path d="M601.5,271.8 L607.5,269.8 L614.8,269.1 L615.2,274.0 L608.2,275.4 L602.2,275.4Z" fill="#8cc63e" stroke="#8cc63e" stroke-width="0.3" stroke-linejoin="round"/>
<path d="M599.5,277.8 L604.8,277.1 L615.2,276.2 L616.2,281.4 L608.8,282.7 L603.5,281.4 L598.8,281.8Z" fill="#8cc63e" stroke="#8cc63e" stroke-width="0.3" stroke-linejoin="round"/>
<path d="M600.8,283.8 L606.2,283.1 L614.2,283.4 L615.5,285.8 L611.5,288.1 L607.5,290.1 L603.5,288.7 L600.8,287.1Z" fill="#8cc63e" stroke="#8cc63e" stroke-width="0.3" stroke-linejoin="round"/>
<path d="M594.8,287.4 L599.5,287.1 L599.7,288.9 L595.5,289.3Z" fill="#ec6b25" stroke="#ec6b25" stroke-width="0.3" stroke-linejoin="round"/>
<path d="M605.5,293.1 L609.5,289.1 L614.2,284.4 L619.5,285.1 L623.5,289.8 L625.5,295.1 L623.5,298.5 L616.8,300.5 L610.2,301.1 L605.5,299.8 L604.8,295.8Z" fill="#d1d3d4" stroke="#fff" stroke-width="0.7" stroke-linejoin="round"/>
<path d="M582.1,290.5 L587.5,288.5 L594.1,289.1 L600.8,289.8 L604.2,292.5 L605.1,297.8 L603.5,303.1 L602.2,305.8 L604.2,296.7 L602.8,303.4 L598.8,307.4 L592.8,306.7 L587.5,304.7 L583.2,302.0 L582.1,295.3 L582.1,296.5Z" fill="#8cc63e" stroke="#fff" stroke-width="0.7" stroke-linejoin="round"/>
<path d="M562.8,293.8 L566.1,291.1 L570.1,289.8 L575.4,290.5 L579.4,289.8 L581.5,293.8 L582.1,299.1 L581.9,307.2 L580.1,296.7 L578.1,301.4 L576.8,304.7 L579.4,308.0 L575.4,312.0 L570.8,314.0 L566.1,313.4 L563.4,310.0 L562.1,303.4 L561.4,296.7 L562.8,307.2 L562.5,300.5Z" fill="#8cc63e" stroke="#fff" stroke-width="0.7" stroke-linejoin="round"/>
<path d="M565.4,280.4 L567.9,278.3 L570.8,277.9 L571.7,280.8 L570.8,284.2 L572.5,285.0 L575.0,283.3 L575.4,286.7 L573.3,287.9 L570.0,287.1 L566.7,286.7 L565.4,284.2Z" fill="#8cc63e" stroke="#8cc63e" stroke-width="0.5" stroke-linejoin="round"/>
<path d="M554.6,300.0 L557.5,296.7 L560.8,293.3 L562.5,294.6 L562.1,300.0 L561.7,303.3 L558.3,303.3 L555.8,302.3Z" fill="#8cc63e" stroke="#8cc63e" stroke-width="0.5" stroke-linejoin="round"/>
<path d="M533.3,274.2 L536.7,272.1 L537.9,274.2 L536.7,276.7 L540.0,277.9 L539.2,280.8 L537.9,282.9 L540.8,285.0 L541.7,288.3 L543.3,290.8 L545.0,294.2 L548.3,296.2 L547.9,299.2 L546.2,302.1 L542.5,302.9 L538.3,303.3 L535.0,304.6 L532.1,305.4 L533.3,302.9 L535.8,301.2 L532.9,300.0 L533.3,297.5 L535.8,296.7 L535.0,294.2 L532.9,293.3 L535.8,290.8 L533.3,287.5 L530.0,286.7 L528.8,284.2 L530.0,281.2 L529.2,278.3 L530.8,275.8Z" fill="#8cc63e" stroke="#8cc63e" stroke-width="0.5" stroke-linejoin="round"/>
<path d="M518.8,291.2 L520.8,290.0 L524.2,290.4 L526.7,288.3 L529.2,289.2 L529.2,292.5 L528.8,295.8 L526.7,298.3 L523.3,299.6 L520.8,300.8 L518.8,300.0 L519.6,297.5 L518.3,295.0Z" fill="#8cc63e" stroke="#8cc63e" stroke-width="0.5" stroke-linejoin="round"/>
<path d="M526.7,275.0 L527.9,274.2 L528.3,277.5 L527.1,278.8Z" fill="#8cc63e"/>
<path d="M540.4,264.6 L542.5,264.2 L542.9,266.7 L541.2,267.9Z" fill="#8cc63e"/>
<path d="M526.7,258.3 L527.7,258.2 L527.9,261.2 L526.9,261.4Z" fill="#8cc63e"/>
<path d="M533.4,312.7 L537.4,310.0 L542.1,308.7 L547.4,306.0 L551.4,303.4 L556.1,304.7 L560.8,306.7 L563.4,310.0 L564.1,314.0 L563.4,316.4 L561.4,318.0 L560.1,322.1 L561.4,326.7 L563.2,330.1 L558.1,331.4 L554.1,330.1 L550.1,332.1 L546.1,331.4 L542.7,330.1 L542.1,325.4 L541.4,320.7 L538.7,316.7 L535.4,314.7Z" fill="#8cc63e" stroke="#fff" stroke-width="0.7" stroke-linejoin="round"/>
<path d="M566.4,332.1 L568.5,331.7 L568.5,336.7 L566.6,336.7Z" fill="#8cc63e"/>
<path d="M522.7,330.1 L527.4,329.0 L533.4,330.1 L539.4,330.7 L545.4,332.1 L550.1,333.4 L550.7,336.1 L547.4,338.1 L544.7,341.4 L542.7,346.1 L540.1,350.1 L536.0,352.8 L532.0,354.8 L528.7,354.1 L526.7,351.4 L527.1,342.1 L526.7,336.1 L523.4,335.4Z" fill="#8cc63e" stroke="#8cc63e" stroke-width="0.7" stroke-linejoin="round"/>
<path d="M522.7,336.1 L526.7,336.1 L527.1,342.1 L526.3,348.8 L525.4,351.7 L522.7,351.0 L522.0,343.4Z" fill="#f5a01f" stroke="#f5a01f" stroke-width="0.7" stroke-linejoin="round"/>
<path d="M550.7,342.1 L553.4,341.8 L553.5,344.0 L550.9,344.2Z" fill="#8cc63e" stroke="#8cc63e" stroke-width="0.7" stroke-linejoin="round"/>
<path d="M563.7,316.0 L568.8,314.4 L571.7,316.7 L568.8,319.0 L564.5,319.0Z" fill="#8cc63e" stroke="#fff" stroke-width="0.7" stroke-linejoin="round"/>
<path d="M576.8,312.7 L582.1,311.1 L589.5,312.0 L588.5,315.0 L582.8,317.0 L577.4,316.3Z" fill="#8cc63e" stroke="#fff" stroke-width="0.7" stroke-linejoin="round"/>
<path d="M576.8,306.0 L582.8,304.4 L589.5,306.7 L590.5,309.0 L586.1,311.0 L580.8,311.6 L577.4,309.6Z" fill="#8cc63e" stroke="#fff" stroke-width="0.7" stroke-linejoin="round"/>
<path d="M590.1,309.8 L595.5,309.1 L599.2,310.7 L595.5,313.0 L590.5,313.0Z" fill="#8cc63e" stroke="#fff" stroke-width="0.7" stroke-linejoin="round"/>
<path d="M563.4,322.7 L567.4,320.7 L572.1,318.7 L576.1,319.1 L577.8,322.1 L575.4,325.4 L576.8,328.7 L580.1,332.7 L584.1,336.1 L588.1,338.7 L590.8,341.4 L588.8,342.1 L586.8,343.4 L587.5,346.8 L585.5,349.4 L583.5,347.4 L584.1,343.4 L582.1,340.8 L578.1,338.1 L574.1,334.1 L571.4,330.1 L568.8,326.7 L564.8,326.1Z" fill="#f5a01f" stroke="#f5a01f" stroke-width="0.8" stroke-linejoin="round"/>
<path d="M576.8,348.8 L582.8,347.4 L582.1,351.4 L578.8,352.1Z" fill="#f5a01f" stroke="#f5a01f" stroke-width="0.8" stroke-linejoin="round"/>
<path d="M565.4,338.1 L568.8,337.8 L568.8,344.8 L565.8,345.0Z" fill="#f5a01f" stroke="#f5a01f" stroke-width="0.8" stroke-linejoin="round"/>
<path d="M586.4,317.4 L591.5,314.7 L596.8,312.7 L599.7,314.7 L598.4,317.6 L594.1,320.3 L588.8,321.0Z" fill="#f5a01f" stroke="#f5a01f" stroke-width="0.9" stroke-linejoin="round"/>
<path d="M598.5,318.7 L602.8,316.0 L609.5,315.4 L614.2,317.4 L616.8,321.4 L618.4,324.7 L614.8,327.0 L610.2,328.3 L604.8,327.7 L600.8,325.7 L598.5,322.1Z" fill="#f5a01f" stroke="#f5a01f" stroke-width="0.9" stroke-linejoin="round"/>
<path d="M602.6,331.4 L608.2,330.1 L614.4,329.4 L615.1,332.7 L611.5,335.7 L606.2,336.3 L602.6,335.0Z" fill="#f5a01f" stroke="#f5a01f" stroke-width="0.9" stroke-linejoin="round"/>
<path d="M578.8,323.4 L584.8,321.8 L590.1,322.1 L588.1,324.5 L584.8,325.8 L586.4,330.1 L587.7,332.5 L584.8,331.0 L582.1,327.7 L579.7,326.1Z" fill="#ec6b25" stroke="#ec6b25" stroke-width="0.6" stroke-linejoin="round"/>
<path d="M588.1,323.7 L595.5,321.8 L598.8,324.7 L602.4,330.1 L602.4,335.4 L599.7,338.7 L596.1,343.4 L594.1,339.4 L591.7,334.1 L588.8,330.1 L586.8,326.1Z" fill="#d1d3d4" stroke="#fff" stroke-width="0.7" stroke-linejoin="round"/>
<path d="M596.1,343.4 L598.8,340.1 L603.5,338.1 L608.2,338.3 L605.1,341.4 L602.8,343.4 L605.5,347.4 L604.2,351.4 L602.2,352.8 L599.5,350.1 L596.8,346.8Z" fill="#e7292a" stroke="#e7292a" stroke-width="1.0" stroke-linejoin="round"/>
<path d="M604.2,357.2 L610.2,357.4 L610.2,359.2 L604.4,358.9Z" fill="#e7292a" stroke="#e7292a" stroke-width="1.0" stroke-linejoin="round"/>
<path d="M603.5,307.4 L606.2,302.0 L611.5,300.7 L618.2,302.0 L623.5,300.0 L628.2,299.3 L629.5,303.4 L632.9,305.4 L638.2,306.0 L642.9,308.0 L643.6,312.0 L641.6,315.4 L638.2,318.0 L634.2,319.4 L631.5,320.1 L632.9,324.1 L630.9,325.4 L628.2,322.1 L624.9,319.4 L622.2,317.4 L620.2,314.0 L616.2,312.7 L611.5,312.0 L606.8,312.0Z" fill="#e7292a" stroke="#fff" stroke-width="0.7" stroke-linejoin="round"/>
<path d="M616.2,312.7 L620.2,314.0 L622.2,317.4 L622.9,320.1 L620.2,318.7 L618.2,316.0Z" fill="#d1d3d4" stroke="#fff" stroke-width="0.4" stroke-linejoin="round"/>
<path d="M649.4,331.4 L652.8,330.1 L656.8,331.4 L662.1,334.1 L664.8,336.1 L666.8,339.4 L664.8,342.8 L660.8,341.4 L656.8,340.1 L654.1,338.8 L651.4,337.4 L649.4,334.8Z" fill="#d1d3d4" stroke="#fff" stroke-width="0.7" stroke-linejoin="round"/>
<path d="M519.0,382.5 L524.0,377.7 L528.1,373.7 L534.1,370.5 L539.1,368.5 L541.1,363.1 L545.1,356.1 L554.1,353.1 L564.1,352.1 L567.1,352.1 L571.1,351.1 L572.1,357.1 L570.1,362.1 L572.1,367.1 L580.2,365.1 L588.2,369.1 L596.2,366.1 L604.2,367.1 L608.2,370.1 L618.2,371.1 L627.3,370.1 L630.3,374.1 L632.3,380.1 L629.3,378.1 L631.3,386.1 L634.1,398.8 L635.4,405.4 L638.1,412.1 L640.1,416.1 L642.7,420.1 L646.1,424.1 L649.4,428.1 L651.4,430.8 L653.4,432.8 L656.1,434.8 L661.4,434.1 L666.8,432.8 L672.8,432.1 L672.1,437.4 L669.4,444.1 L665.4,450.8 L660.8,457.5 L656.1,462.8 L648.3,474.1 L644.3,482.1 L645.9,490.1 L644.3,498.1 L647.3,504.1 L646.3,510.1 L645.3,518.2 L640.3,524.2 L635.3,530.2 L634.3,538.2 L632.3,544.2 L628.3,547.2 L626.3,553.2 L624.3,559.2 L620.3,564.2 L614.2,569.3 L606.2,573.3 L598.2,575.3 L592.2,576.3 L590.2,570.3 L589.2,564.2 L587.2,557.2 L585.2,554.2 L582.2,544.2 L579.2,534.2 L576.2,524.2 L575.2,516.2 L576.2,506.1 L578.2,496.1 L576.2,486.1 L572.2,478.1 L568.2,470.1 L567.2,462.0 L564.1,454.0 L558.1,449.0 L548.1,450.0 L538.1,451.0 L526.1,452.0 L516.1,446.0 L516.0,444.2 L510.0,436.2 L505.0,428.2 L503.0,420.2 L502.0,412.2 L503.0,404.2 L505.0,396.2 L509.0,388.1 L514.0,382.1Z" fill="#d1d3d4"/>
<path d="M530.1,358.1 L538.1,357.1 L541.1,363.1 L539.1,368.1 L534.1,370.1 L528.1,373.1 L524.0,377.1 L519.0,382.1 L514.0,381.1 L519.0,375.1 L522.0,369.1 L524.0,363.1Z" fill="#f5a01f" stroke="#f5a01f" stroke-width="0.5" stroke-linejoin="round"/>
<path d="M567.1,352.1 L571.1,351.1 L572.1,357.1 L570.1,362.1 L572.1,367.1 L569.1,370.1 L566.1,366.1 L565.1,359.1Z" fill="#ec6b25" stroke="#ec6b25" stroke-width="0.5" stroke-linejoin="round"/>
<path d="M608.2,370.1 L618.2,371.1 L627.3,370.1 L630.3,374.1 L632.3,380.1 L629.3,377.5 L631.3,386.1 L634.3,395.2 L635.3,399.2 L608.2,399.2Z" fill="#ec6b25" stroke="#ec6b25" stroke-width="0.5" stroke-linejoin="round"/>
<path d="M587.2,557.2 L592.2,556.2 L596.2,552.2 L599.2,549.2 L606.2,548.2 L612.2,544.2 L616.3,539.2 L621.3,537.8 L623.3,540.2 L623.9,548.2 L622.3,550.2 L626.3,553.2 L624.3,559.2 L620.3,564.2 L614.2,569.3 L606.2,573.3 L598.2,575.3 L592.2,576.3 L590.2,570.3 L589.2,564.2Z" fill="#ec6b25" stroke="#ec6b25" stroke-width="0.5" stroke-linejoin="round"/>
<path d="M613.2,558.2 L617.3,556.2 L619.3,559.2 L616.3,562.6 L612.6,561.2Z" fill="#d1d3d4" stroke="#d1d3d4" stroke-width="0.5" stroke-linejoin="round"/>
<path d="M666.4,506.1 L669.4,505.1 L671.4,512.1 L670.4,522.2 L667.4,534.2 L663.3,544.2 L658.3,547.2 L654.3,543.2 L654.3,534.2 L657.3,524.2 L661.3,516.2Z" fill="#d1d3d4"/>
<path d="M683.4,399.4 L685.4,394.8 L688.1,392.8 L691.5,394.8 L694.1,398.8 L692.8,403.4 L689.4,408.1 L685.4,412.1 L680.8,416.1 L677.4,414.8 L673.4,420.1 L668.1,424.1 L661.4,426.8 L656.1,428.1 L653.4,424.1 L653.4,420.1 L651.4,415.7 L655.4,415.1 L660.1,416.4 L664.7,413.7 L670.1,411.1 L675.4,409.7 L679.4,407.0 L682.8,404.4 L682.4,400.4Z" fill="#d1d3d4" stroke="#fff" stroke-width="0.8" stroke-linejoin="round"/>
<path d="M917.4,484.7 L922.0,484.7 L926.0,481.4 L925.4,477.4 L922.0,475.8 L927.4,478.7 L928.3,482.5 L924.0,486.5 L918.7,486.7Z" fill="#e3e4e5"/>
<path d="M932.7,484.7 L934.5,486.1 L936.3,489.1 L935.0,489.1 L933.1,486.5Z" fill="#e3e4e5"/>
<path d="M938.1,490.1 L940.1,491.4 L941.4,494.1 L939.8,493.7 L938.2,491.8Z" fill="#e3e4e5"/>
<path d="M942.7,491.4 L946.1,492.8 L946.7,494.1 L943.4,492.8Z" fill="#e3e4e5"/>
<path d="M945.4,497.4 L948.3,496.8 L951.4,500.1 L950.1,500.8 L947.8,498.8 L945.8,498.8Z" fill="#e3e4e5"/>
<path d="M962.5,512.8 L964.1,513.2 L965.0,518.1 L963.8,517.5 L962.8,514.8Z" fill="#e3e4e5"/>
<path d="M989.5,521.5 L993.5,518.8 L996.2,517.5 L995.5,519.5 L992.2,523.1 L989.7,523.5Z" fill="#e3e4e5"/>
<path d="M1012.9,509.4 L1017.5,510.0 L1017.3,511.2 L1013.1,510.8Z" fill="#e3e4e5"/>
<path d="M956.1,529.7 L958.1,530.8 L962.8,535.9 L961.2,536.2 L956.8,532.2Z" fill="#e3e4e5"/>
<polyline points="509.0,389.1 519.0,388.1 519.0,383.7 524.0,383.3 524.4,378.1" fill="none" stroke="#fff" stroke-width="1.1" stroke-linejoin="round"/>
<polyline points="524.4,378.1 530.1,382.1 530.1,408.2 516.0,409.2 511.0,414.2 504.4,412.6" fill="none" stroke="#fff" stroke-width="1.1" stroke-linejoin="round"/>
<polyline points="530.1,382.1 555.1,399.2 567.1,392.1 572.1,386.1 571.1,378.1 569.1,370.1" fill="none" stroke="#fff" stroke-width="1.1" stroke-linejoin="round"/>
<polyline points="555.1,399.2 554.1,408.2 546.1,414.2 540.1,415.8" fill="none" stroke="#fff" stroke-width="1.1" stroke-linejoin="round"/>
<polyline points="516.0,409.2 518.0,418.2 526.1,420.2 532.1,424.2 540.1,415.8 546.1,418.2 560.1,419.2 570.1,418.2 581.2,420.2" fill="none" stroke="#fff" stroke-width="1.1" stroke-linejoin="round"/>
<polyline points="572.1,386.1 584.2,394.1 583.2,414.2 581.2,420.2 584.2,428.2 594.2,432.2 606.2,429.2" fill="none" stroke="#fff" stroke-width="1.1" stroke-linejoin="round"/>
<polyline points="584.2,394.1 605.2,405.2 605.2,399.2 608.2,399.2 608.2,370.1" fill="none" stroke="#fff" stroke-width="1.1" stroke-linejoin="round"/>
<polyline points="605.2,405.2 602.2,420.2 606.2,429.2 616.2,431.2 628.3,434.2 630.3,424.2 634.3,416.2 638.3,406.2" fill="none" stroke="#fff" stroke-width="1.1" stroke-linejoin="round"/>
<polyline points="560.1,419.2 559.1,428.2 562.1,438.2" fill="none" stroke="#fff" stroke-width="1.1" stroke-linejoin="round"/>
<polyline points="580.2,432.2 584.2,428.2" fill="none" stroke="#fff" stroke-width="1.1" stroke-linejoin="round"/>
<polyline points="628.3,434.2 634.3,444.2 644.3,448.3 654.3,444.2 660.3,433.2" fill="none" stroke="#fff" stroke-width="1.1" stroke-linejoin="round"/>
<polyline points="641.3,411.2 648.3,420.2 655.3,425.2" fill="none" stroke="#fff" stroke-width="1.1" stroke-linejoin="round"/>
<polyline points="506.0,420.2 514.0,421.2 518.0,418.2" fill="none" stroke="#fff" stroke-width="1.1" stroke-linejoin="round"/>
<polyline points="511.0,432.2 518.0,429.2 526.1,420.2" fill="none" stroke="#fff" stroke-width="1.1" stroke-linejoin="round"/>
<polyline points="520.0,448.3 522.0,438.2 526.1,432.2 532.1,424.2" fill="none" stroke="#fff" stroke-width="1.1" stroke-linejoin="round"/>
<polyline points="532.1,424.2 533.1,436.2 532.1,450.3" fill="none" stroke="#fff" stroke-width="1.1" stroke-linejoin="round"/>
<polyline points="540.1,432.2 541.1,450.3" fill="none" stroke="#fff" stroke-width="1.1" stroke-linejoin="round"/>
<polyline points="546.1,418.2 547.1,432.2 546.5,448.3" fill="none" stroke="#fff" stroke-width="1.1" stroke-linejoin="round"/>
<polyline points="551.1,432.2 551.7,446.3" fill="none" stroke="#fff" stroke-width="1.1" stroke-linejoin="round"/>
<polyline points="590.2,458.0 602.2,454.0 618.3,453.0 622.3,460.0 620.3,470.1 618.3,476.1 620.3,486.1 618.3,494.1 614.2,500.1 606.2,502.1 602.2,498.1 599.2,490.1 594.2,488.1 586.2,489.1 584.2,480.1 578.2,479.1 582.2,472.1 588.2,466.1 590.2,458.0" fill="none" stroke="#fff" stroke-width="1.1" stroke-linejoin="round"/>
<polyline points="576.2,487.1 578.2,479.1" fill="none" stroke="#fff" stroke-width="1.1" stroke-linejoin="round"/>
<polyline points="602.2,498.1 602.2,504.1 598.2,508.1 599.2,520.2 590.2,521.2 575.2,520.2" fill="none" stroke="#fff" stroke-width="1.1" stroke-linejoin="round"/>
<polyline points="602.2,504.1 614.2,500.1" fill="none" stroke="#fff" stroke-width="1.1" stroke-linejoin="round"/>
<polyline points="618.3,494.1 628.3,498.1 630.3,506.1 622.3,514.1 614.2,518.2 606.2,520.2 599.2,520.2" fill="none" stroke="#fff" stroke-width="1.1" stroke-linejoin="round"/>
<polyline points="596.2,521.2 595.2,548.2 599.2,549.2" fill="none" stroke="#fff" stroke-width="1.1" stroke-linejoin="round"/>
<polyline points="598.2,524.2 610.2,525.2 616.3,532.2 612.2,540.2 612.2,544.2" fill="none" stroke="#fff" stroke-width="1.1" stroke-linejoin="round"/>
<polyline points="612.2,520.2 622.3,516.2 628.3,522.2 626.3,530.2 618.3,534.2 616.3,532.2" fill="none" stroke="#fff" stroke-width="1.1" stroke-linejoin="round"/>
<polyline points="630.3,506.1 646.3,502.1" fill="none" stroke="#fff" stroke-width="1.1" stroke-linejoin="round"/>
<polyline points="630.3,506.1 634.3,516.2 628.3,522.2" fill="none" stroke="#fff" stroke-width="1.1" stroke-linejoin="round"/>
<polyline points="626.3,530.2 623.9,540.2" fill="none" stroke="#fff" stroke-width="1.1" stroke-linejoin="round"/>
<polyline points="622.3,472.1 634.3,473.1 643.3,482.1" fill="none" stroke="#fff" stroke-width="1.1" stroke-linejoin="round"/>
<polyline points="620.3,478.1 620.3,488.1 628.3,498.1" fill="none" stroke="#fff" stroke-width="1.1" stroke-linejoin="round"/>
<polyline points="622.3,460.0 632.3,460.0 634.3,466.1 634.3,473.1" fill="none" stroke="#fff" stroke-width="1.1" stroke-linejoin="round"/>
<polyline points="632.3,460.0 634.3,456.0 646.3,455.0 650.3,464.0" fill="none" stroke="#fff" stroke-width="1.1" stroke-linejoin="round"/>
<polyline points="564.1,454.0 574.2,455.0 584.2,452.0 590.2,458.0" fill="none" stroke="#fff" stroke-width="1.1" stroke-linejoin="round"/>
<polyline points="568.2,470.1 578.2,468.1 582.2,472.1" fill="none" stroke="#fff" stroke-width="1.1" stroke-linejoin="round"/>
<polyline points="584.2,452.0 594.2,446.0 606.2,444.0 618.3,453.0" fill="none" stroke="#fff" stroke-width="1.1" stroke-linejoin="round"/>
<polyline points="574.2,455.0 575.2,462.0 568.2,462.4" fill="none" stroke="#fff" stroke-width="1.1" stroke-linejoin="round"/>
<polyline points="632.7,366.7 640.0,362.7 646.7,354.7 654.7,348.0" fill="none" stroke="#fff" stroke-width="1.1" stroke-linejoin="round"/>
<polyline points="640.0,371.4 646.7,364.0 654.7,360.0 660.1,354.7 658.7,348.0" fill="none" stroke="#fff" stroke-width="1.1" stroke-linejoin="round"/>
<polyline points="666.7,377.7 664.1,370.7 660.1,364.0 660.1,354.7" fill="none" stroke="#fff" stroke-width="1.1" stroke-linejoin="round"/>
<polyline points="660.1,354.7 665.4,350.7 670.8,348.0 673.4,342.7" fill="none" stroke="#fff" stroke-width="1.1" stroke-linejoin="round"/>
<polyline points="700.1,379.4 698.8,373.4 700.1,366.7 697.5,360.0 698.8,353.4 694.8,348.0" fill="none" stroke="#fff" stroke-width="1.1" stroke-linejoin="round"/>
<polyline points="698.8,353.4 705.5,352.0 713.5,349.3 721.5,348.0 726.8,355.4" fill="none" stroke="#fff" stroke-width="1.1" stroke-linejoin="round"/>
<polyline points="676.8,329.4 682.2,333.4 688.8,334.8 695.5,338.8 700.9,342.8 706.2,344.1" fill="none" stroke="#fff" stroke-width="1.1" stroke-linejoin="round"/>
<polyline points="694.2,324.7 696.8,330.8 703.5,333.4 710.2,337.4 715.5,336.1" fill="none" stroke="#fff" stroke-width="1.1" stroke-linejoin="round"/>
<polyline points="706.2,344.1 710.2,340.1 716.9,338.8 723.6,337.4" fill="none" stroke="#fff" stroke-width="1.1" stroke-linejoin="round"/>
<line x1="649.0" y1="284.4" x2="628.0" y2="307.0" stroke="#ffffff" stroke-width="1.3"/>
<line x1="597.5" y1="356.1" x2="584.1" y2="378.1" stroke="#222222" stroke-width="1.3"/>
</svg>
<div id="title">Credit Default Risk</div>
<div id="sub">Sovereign credit default swap spreads (bps), July 31, 2015</div>
<div class="ax" style="left:180.0px">0</div><div class="tk" style="left:207.8px"></div>
<div class="ax" style="left:338.1px">1000</div><div class="tk" style="left:372.2px"></div>
<div class="ax" style="left:502.6px">2000</div><div class="tk" style="left:536.7px"></div>
<div class="ax" style="left:667.0px">3000</div><div class="tk" style="left:701.1px"></div>
<div class="ax" style="left:831.5px">4000</div><div class="tk" style="left:865.6px"></div>
<div class="ax" style="left:995.9px">5000</div><div class="tk" style="left:1030.0px"></div>
<div class="lb" style="top:83.3px">Venezuela</div><div class="bar" style="left:207.5px;top:89.3px;width:815.0px;background:#e7292a"></div>
<div class="lb" style="top:99.5px">Greece</div><div class="bar" style="left:207.5px;top:105.4px;width:388.5px;background:#e7292a"></div>
<div class="lb" style="top:115.6px">Ukraine</div><div class="bar" style="left:207.5px;top:121.5px;width:334.6px;background:#e7292a"></div>
<div class="lb" style="top:131.8px">Pakistan</div><div class="bar" style="left:207.5px;top:137.6px;width:76.2px;background:#e7292a"></div>
<div class="lb" style="top:148.0px">Egypt</div><div class="bar" style="left:207.5px;top:153.7px;width:58.2px;background:#ec6b25"></div>
<div class="lb" style="top:164.1px">Cyprus</div><div class="bar" style="left:207.5px;top:169.8px;width:57.4px;background:#ec6b25"></div>
<div class="lb" style="top:180.3px">Russia</div><div class="bar" style="left:207.5px;top:185.9px;width:57.4px;background:#ec6b25"></div>
<div class="lb" style="top:196.5px">Brazil</div><div class="bar" style="left:207.5px;top:202.0px;width:48.9px;background:#ec6b25"></div>
<div class="lb" style="top:212.6px">Kazakhstan</div><div class="bar" style="left:207.5px;top:218.1px;width:43.9px;background:#ec6b25"></div>
<div class="lb" style="top:228.8px">Turkey</div><div class="bar" style="left:207.5px;top:234.2px;width:40.6px;background:#ec6b25"></div>
<div class="lb" style="top:245.0px">South Africa</div><div class="bar" style="left:207.5px;top:250.3px;width:37.8px;background:#ec6b25"></div>
<div class="lb" style="top:261.1px">Vietnam</div><div class="bar" style="left:207.5px;top:266.4px;width:37.6px;background:#ec6b25"></div>
<div class="lb" style="top:277.3px">Indonesia</div><div class="bar" style="left:207.5px;top:282.5px;width:32.6px;background:#f5a01f"></div>
<div class="lb" style="top:293.5px;color:#141414">Colombia</div><div class="bar" style="left:207.5px;top:298.6px;width:31.4px;background:#f5a01f"></div>
<div class="lb" style="top:309.7px">India</div><div class="bar" style="left:207.5px;top:314.7px;width:29.7px;background:#f5a01f"></div>
<div class="lb" style="top:325.8px">Morocco</div><div class="bar" style="left:207.5px;top:330.8px;width:29.4px;background:#f5a01f"></div>
<div class="lb" style="top:342.0px">Portugal</div><div class="bar" style="left:207.5px;top:346.9px;width:29.4px;background:#f5a01f"></div>
<div class="lb" style="top:358.2px">Malaysia</div><div class="bar" style="left:207.5px;top:362.9px;width:26.9px;background:#f5a01f"></div>
<div class="lb" style="top:374.3px">Mexico</div><div class="bar" style="left:207.5px;top:379.0px;width:24.6px;background:#f5a01f"></div>
<div class="lb" style="top:390.5px">Thailand</div><div class="bar" style="left:207.5px;top:395.1px;width:19.7px;background:#f5a01f"></div>
<div class="lb" style="top:406.7px">Chile</div><div class="bar" style="left:207.5px;top:411.2px;width:19.6px;background:#f5a01f"></div>
<div class="lb" style="top:422.8px">Italy</div><div class="bar" style="left:207.5px;top:427.3px;width:18.3px;background:#f5a01f"></div>
<div class="lb" style="top:439.0px">China</div><div class="bar" style="left:207.5px;top:443.4px;width:18.0px;background:#f5a01f"></div>
<div class="lb" style="top:455.2px">Philippines</div><div class="bar" style="left:207.5px;top:459.5px;width:17.8px;background:#f5a01f"></div>
<div class="lb" style="top:471.3px">Spain</div><div class="bar" style="left:207.5px;top:475.6px;width:17.4px;background:#8cc63e"></div>
<div class="lb" style="top:487.5px">Israel</div><div class="bar" style="left:207.5px;top:491.7px;width:12.8px;background:#8cc63e"></div>
<div class="lb" style="top:503.7px">Poland</div><div class="bar" style="left:207.5px;top:507.8px;width:12.5px;background:#8cc63e"></div>
<div class="lb" style="top:519.8px">Saudi Arabia</div><div class="bar" style="left:207.5px;top:523.9px;width:12.1px;background:#8cc63e"></div>
<div class="lb" style="top:536.0px">Ireland</div><div class="bar" style="left:207.5px;top:540.0px;width:9.7px;background:#8cc63e"></div>
<div class="lb" style="top:552.2px;color:#141414">South Korea</div><div class="bar" style="left:207.5px;top:556.1px;width:9.8px;background:#8cc63e"></div>
<div class="lb" style="top:568.3px">Japan</div><div class="bar" style="left:207.5px;top:572.2px;width:8.1px;background:#8cc63e"></div>
<div class="lb" style="top:584.5px">Australia</div><div class="bar" style="left:207.5px;top:588.3px;width:8.1px;background:#8cc63e"></div>
<div class="lb" style="top:600.7px">New Zealand</div><div class="bar" style="left:207.5px;top:604.4px;width:6.8px;background:#8cc63e"></div>
<div class="lb" style="top:616.8px">France</div><div class="bar" style="left:207.5px;top:620.5px;width:6.8px;background:#8cc63e"></div>
<div class="lb" style="top:633.0px">United Kingdom</div><div class="bar" style="left:207.5px;top:636.6px;width:5.3px;background:#8cc63e"></div>
<div class="lb" style="top:649.2px">United States</div><div class="bar" style="left:207.5px;top:652.7px;width:4.5px;background:#8cc63e"></div>
<div class="lb" style="top:665.3px">Sweden</div><div class="bar" style="left:207.5px;top:668.8px;width:4.5px;background:#8cc63e"></div>
<div class="lb" style="top:681.5px">Switzerland</div><div class="bar" style="left:207.5px;top:684.9px;width:4.5px;background:#8cc63e"></div>
<div class="lb" style="top:697.7px">Germany</div><div class="bar" style="left:207.5px;top:701.0px;width:4.5px;background:#8cc63e"></div>
<div class="lg" style="top:506.5px;height:20.5px;background:#e7292a"></div><div class="lt" style="top:509.45px">&gt; 500</div>
<div class="lg" style="top:539.0px;height:20.0px;background:#ec6b25"></div><div class="lt" style="top:541.00px">200 - 500</div>
<div class="lg" style="top:571.8px;height:20.0px;background:#f5a01f"></div><div class="lt" style="top:574.10px">100 - 200</div>
<div class="lg" style="top:603.4px;height:20.5px;background:#8cc63e"></div><div class="lt" style="top:606.80px">0 - 100</div>
<div class="src" style="left:998.8px;top:634.5px;font-size:11.8px">As of July 31, 2015</div>
<div class="src" style="left:953px;top:703.5px;font-size:12.3px">Source: Mapping Worlds, Bloomberg</div>
<div class="ml mw" style="left:754.7px;top:253.0px">Russia</div>
<div class="ml mw" style="left:642.0px;top:268.0px">Ukraine</div>
<div class="ml mw" style="left:677.8px;top:305.5px">Kazakhstan</div>
<div class="ml mw" style="left:779.8px;top:357.0px">China</div>
<div class="ml mw" style="left:728.7px;top:387.0px">India</div>
<div class="ml mw" style="left:398.2px;top:491.8px">Brazil</div>
<div class="ml" style="left:669.7px;top:361.0px">Pakistan</div>
<div class="ml" style="left:552.0px;top:375.8px">Greece</div>
<div class="ml" style="left:598.2px;top:403.0px">Egypt</div>
<div class="ml" style="left:383.2px;top:417.4px">Venezuela</div>
<div class="ml" style="left:570.0px;top:583.0px">South Africa</div>
<div class="ml" style="left:823.1px;top:413.0px">Vietnam</div>
</body></html>
